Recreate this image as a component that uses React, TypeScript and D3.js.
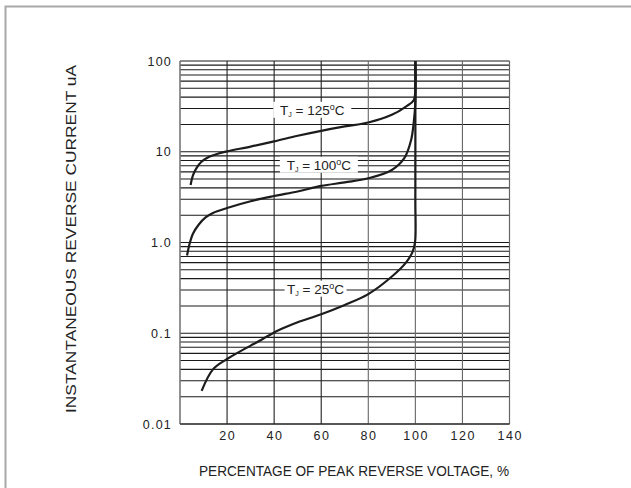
import * as d3 from 'd3'

// Percent of peak reverse voltage vs. instantaneous reverse current (uA)
const curve125: [number, number][] = [
  [4.5, 4.3], [5.5, 5.5], [7, 6.6], [9, 7.7], [12, 8.7], [16, 9.5], [20, 10.1], [30, 11.4], [40, 13],
  [50, 15], [60, 17], [70, 19], [80, 21], [90, 25.5], [96, 31.5], [99.3, 37], [100, 55], [100, 100],
]
const curve100: [number, number][] = [
  [3, 0.72], [4, 0.95], [5.5, 1.25], [8, 1.58], [11, 1.9], [14, 2.12], [20, 2.4], [30, 2.85], [40, 3.25],
  [50, 3.65], [60, 4.2], [70, 4.6], [80, 5.1], [90, 6.3], [95.3, 8.5], [98.2, 13.5], [99.3, 21], [100, 35], [100, 100],
]
const curve25: [number, number][] = [
  [9.2, 0.0232], [14, 0.04], [20, 0.052], [25, 0.062], [30, 0.073], [35, 0.086], [40, 0.102],
  [45, 0.117], [50, 0.132], [60, 0.162], [70, 0.205], [80, 0.27], [90.4, 0.43], [96, 0.6],
  [98.9, 0.8], [99.9, 1.03], [100, 3], [100, 100],
]
const curves = [curve125, curve100, curve25]

const labels = [
  { temp: '125', x: 56.2, y: 29 },
  { temp: '100', x: 59, y: 7.2 },
  { temp: '25', x: 57.6, y: 0.31 },
]

const xTicks = [20, 40, 60, 80, 100, 120, 140]
const xGrid = [20, 40, 60, 80, 100, 120]
const yTicks = [100, 10, 1, 0.1, 0.01]
const yTickLabels = ['100', '10', '1.0', '0.1', '0.01']

const W = 631
const H = 488
const font = '"Liberation Sans", Arial, sans-serif'

export default function App() {
  const x = d3.scaleLinear().domain([0, 140]).range([180, 509.5])
  const y = d3.scaleLog().domain([0.01, 100]).range([424, 61])

  // minor log gridlines 1..9 per decade
  const yGrid: number[] = []
  for (let e = -2; e < 2; e++) {
    for (let m = 1; m < 10; m++) yGrid.push(m * Math.pow(10, e))
  }
  yGrid.push(100)

  const line = d3.line<[number, number]>()
    .x(d => x(d[0]))
    .y(d => y(d[1]))
    .curve(d3.curveCatmullRom.alpha(0.5))

  const [x0, x1] = x.range()
  const [yb, yt] = y.range()

  return (
    <div style={{ position: 'absolute', left: 0, top: 0 }}>
      <svg width={W} height={H} style={{ display: 'block', background: '#fff' }} fontFamily={font}>
        {/* outer frame */}
        <rect x={5.5} y={6.5} width={W + 20} height={H + 20} fill="none" stroke="#a8a8a8" strokeWidth={2} />

        {/* horizontal gridlines */}
        {yGrid.map((v, i) => (
          <line key={'h' + i} x1={x0} x2={x1} y1={y(v)} y2={y(v)} stroke="#1a1a1a" strokeWidth={1.1} />
        ))}
        {/* vertical gridlines */}
        {xGrid.map(v => (
          <line key={'v' + v} x1={x(v)} x2={x(v)} y1={yt} y2={yb}
            stroke={v <= 60 ? '#222' : '#666'} strokeWidth={1.1} />
        ))}
        {/* plot border */}
        <line x1={x0} x2={x0} y1={yt} y2={yb} stroke="#777" strokeWidth={1.6} />
        <line x1={x1} x2={x1} y1={yt} y2={yb} stroke="#666" strokeWidth={1.2} />
        <line x1={x0} x2={x1} y1={yb} y2={yb} stroke="#222" strokeWidth={1.2} />

        {/* curves */}
        {curves.map((c, i) => (
          <path key={'c' + i} d={line(c) ?? ''} fill="none" stroke="#1c1c1c" strokeWidth={2.2} />
        ))}

        {/* curve labels */}
        {labels.map(l => {
          const cx = x(l.x)
          const cy = y(l.y)
          const w = l.temp.length === 3 ? 78 : 62
          return (
            <g key={l.temp}>
              <rect x={cx - w / 2} y={cy - 8} width={w} height={16} fill="#fff" />
              <text x={cx} y={cy + 5} textAnchor="middle" fontSize={13.5} fill="#222">
                T<tspan fontSize={7} dy={2}>J</tspan>
                <tspan dy={-2}> = {l.temp}</tspan>
                <tspan fontSize={9} dy={-5}>o</tspan>
                <tspan dy={5}>C</tspan>
              </text>
            </g>
          )
        })}

        {/* y tick labels */}
        {yTicks.map((v, i) => (
          <text key={'yt' + i} x={172} y={y(v) + 4.5} textAnchor="end" fontSize={12.5}
            letterSpacing={1.2} fill="#222">{yTickLabels[i]}</text>
        ))}
        {/* x tick labels */}
        {xTicks.map(v => (
          <text key={'xt' + v} x={x(v) + 0.8} y={440} textAnchor="middle" fontSize={12.5}
            letterSpacing={1.6} fill="#222">{v}</text>
        ))}

        {/* axis titles */}
        <text x={199} y={476} fontSize={15} fill="#222" textLength={310} lengthAdjust="spacingAndGlyphs">
          PERCENTAGE OF PEAK REVERSE VOLTAGE, %
        </text>
        <text transform="translate(76,413) rotate(-90)" x={0} y={0} fontSize={15} fill="#222"
          textLength={348} lengthAdjust="spacingAndGlyphs">
          INSTANTANEOUS REVERSE CURRENT uA
        </text>
      </svg>
    </div>
  )
}
